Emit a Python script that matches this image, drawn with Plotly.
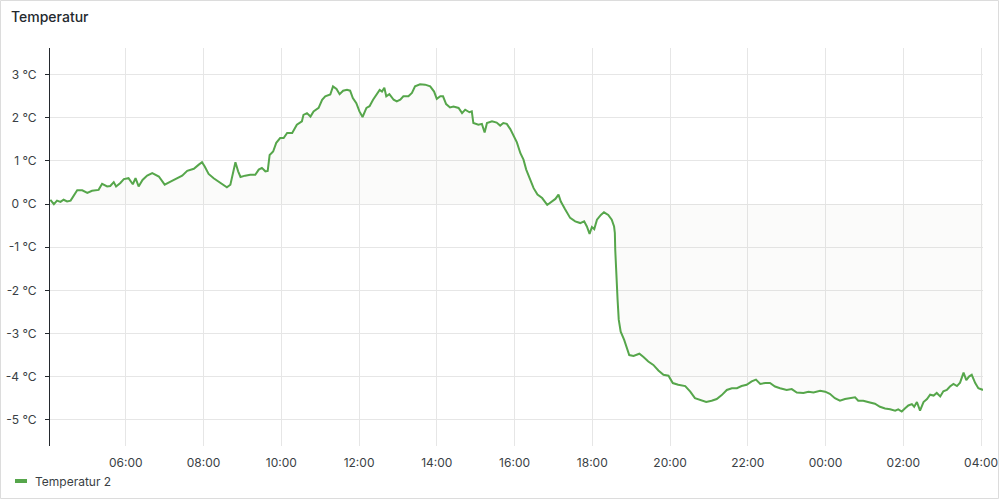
import datetime as dt
import plotly.graph_objects as go

# ---- data (hours after midnight of the start day, temperature in °C) ----
hours = [4.06, 4.15, 4.23, 4.32, 4.40, 4.49, 4.58, 4.66, 4.75, 4.88, 5.01, 5.13, 5.30, 5.39, 5.52,
         5.60, 5.69, 5.75, 5.86, 5.95, 6.07, 6.18, 6.25, 6.33, 6.43, 6.55, 6.68, 6.85, 7.00, 7.15,
         7.32, 7.45, 7.58, 7.75, 7.87, 7.96, 8.03, 8.13, 8.26, 8.39, 8.52, 8.60, 8.69, 8.75, 8.82,
         8.89, 8.95, 9.07, 9.20, 9.33, 9.42, 9.50, 9.59, 9.65, 9.70, 9.79, 9.87, 9.97, 10.06, 10.15,
         10.28, 10.40, 10.53, 10.57, 10.66, 10.75, 10.83, 10.96, 11.05, 11.13, 11.26, 11.33, 11.42,
         11.50, 11.59, 11.69, 11.77, 11.84, 11.93, 12.01, 12.09, 12.19, 12.27, 12.36, 12.44, 12.53,
         12.59, 12.65, 12.70, 12.78, 12.89, 12.97, 13.06, 13.14, 13.27, 13.36, 13.44, 13.57, 13.70,
         13.83, 13.93, 14.00, 14.09, 14.16, 14.24, 14.34, 14.43, 14.56, 14.65, 14.73, 14.84, 14.90,
         14.94, 15.07, 15.16, 15.23, 15.29, 15.42, 15.54, 15.63, 15.71, 15.80, 15.89, 15.97, 16.06,
         16.15, 16.23, 16.30, 16.39, 16.49, 16.59, 16.71, 16.84, 16.92, 17.05, 17.13, 17.19, 17.30,
         17.43, 17.56, 17.69, 17.79, 17.86, 17.93, 17.99, 18.05, 18.12, 18.22, 18.30, 18.41, 18.50,
         18.56, 18.58, 18.59, 18.61, 18.65, 18.68, 18.73, 18.82, 18.89, 18.95, 19.06, 19.21, 19.31,
         19.44, 19.57, 19.70, 19.83, 19.96, 20.07, 20.21, 20.39, 20.52, 20.64, 20.77, 20.93, 21.07,
         21.20, 21.33, 21.46, 21.59, 21.72, 21.84, 21.97, 22.10, 22.21, 22.32, 22.45, 22.57, 22.70,
         22.83, 23.00, 23.13, 23.26, 23.43, 23.56, 23.69, 23.86, 23.99, 24.11, 24.24, 24.37, 24.50,
         24.63, 24.76, 24.84, 24.97, 25.14, 25.27, 25.40, 25.53, 25.66, 25.79, 25.87, 25.96, 26.04,
         26.13, 26.22, 26.28, 26.35, 26.43, 26.52, 26.61, 26.69, 26.78, 26.86, 26.95, 27.03, 27.12,
         27.20, 27.29, 27.38, 27.46, 27.55, 27.62, 27.69, 27.76, 27.85, 27.93, 28.05]

temps = [0.10, 0.00, 0.08, 0.05, 0.10, 0.06, 0.08, 0.18, 0.32, 0.32, 0.26, 0.31, 0.33, 0.47, 0.41,
         0.42, 0.51, 0.41, 0.49, 0.58, 0.60, 0.46, 0.60, 0.41, 0.56, 0.66, 0.72, 0.64, 0.45, 0.52,
         0.60, 0.66, 0.77, 0.82, 0.91, 0.97, 0.87, 0.70, 0.60, 0.52, 0.42, 0.39, 0.45, 0.72, 0.97,
         0.76, 0.63, 0.66, 0.68, 0.68, 0.80, 0.84, 0.76, 0.77, 1.14, 1.22, 1.42, 1.53, 1.53, 1.65,
         1.65, 1.84, 1.92, 2.07, 2.11, 2.03, 2.15, 2.23, 2.42, 2.50, 2.54, 2.73, 2.67, 2.55, 2.63,
         2.65, 2.63, 2.46, 2.34, 2.15, 2.02, 2.23, 2.27, 2.42, 2.54, 2.65, 2.61, 2.70, 2.50, 2.55,
         2.42, 2.38, 2.42, 2.50, 2.50, 2.58, 2.73, 2.78, 2.77, 2.73, 2.61, 2.44, 2.50, 2.50, 2.32,
         2.24, 2.26, 2.23, 2.11, 2.19, 2.13, 2.15, 1.88, 1.84, 1.86, 1.66, 1.88, 1.92, 1.89, 1.82,
         1.88, 1.86, 1.74, 1.61, 1.43, 1.18, 1.03, 0.80, 0.60, 0.37, 0.22, 0.14, -0.02, 0.04, 0.12,
         0.22, 0.06, -0.12, -0.32, -0.40, -0.44, -0.40, -0.52, -0.69, -0.53, -0.58, -0.36, -0.25,
         -0.19, -0.25, -0.36, -0.52, -0.67, -1.06, -1.60, -2.22, -2.68, -2.96, -3.15, -3.34, -3.50,
         -3.52, -3.47, -3.54, -3.65, -3.73, -3.86, -3.96, -3.98, -4.15, -4.19, -4.22, -4.35, -4.50,
         -4.54, -4.59, -4.56, -4.52, -4.43, -4.31, -4.27, -4.27, -4.22, -4.19, -4.11, -4.07, -4.17,
         -4.15, -4.15, -4.23, -4.27, -4.31, -4.29, -4.37, -4.38, -4.35, -4.37, -4.33, -4.35, -4.40,
         -4.50, -4.56, -4.52, -4.50, -4.48, -4.56, -4.56, -4.60, -4.63, -4.70, -4.74, -4.76, -4.79,
         -4.76, -4.81, -4.74, -4.67, -4.64, -4.70, -4.59, -4.79, -4.59, -4.52, -4.42, -4.44, -4.38,
         -4.46, -4.34, -4.31, -4.23, -4.17, -4.22, -4.14, -3.91, -4.08, -4.00, -3.96, -4.15, -4.27,
         -4.31]

y_tick_values = [3, 2, 1, 0, -1, -2, -3, -4, -5]
y_tick_labels = ["3 °C", "2 °C", "1 °C", "0 °C", "-1 °C", "-2 °C", "-3 °C", "-4 °C", "-5 °C"]

series_name = "Temperatur 2"
panel_title = "Temperatur"

# ---- build figure ----
base = dt.datetime(2024, 1, 15)
times = [base + dt.timedelta(hours=h) for h in hours]
x_start = base + dt.timedelta(hours=4.05)
x_end = base + dt.timedelta(hours=28.05)

W, H = 1000, 500
ML, MR, MT, MB = 50, 17, 48, 54
pw, ph = W - ML - MR, H - MT - MB

def px_x(p):
    return (p - ML) / pw

def px_y(p):
    return (H - MB - p) / ph

GREEN = "#56a64b"
TEXT = "#3a3f45"
GRID = "#e6e6e6"

fig = go.Figure()
fig.add_trace(go.Scatter(
    x=times, y=temps, mode="lines", name=series_name,
    line=dict(color=GREEN, width=2),
    fill="tozeroy", fillcolor="rgba(200,200,180,0.07)",
    showlegend=False, hoverinfo="x+y",
))

fig.update_layout(
    width=W, height=H,
    margin=dict(l=ML, r=MR, t=MT, b=MB, autoexpand=False),
    paper_bgcolor="white", plot_bgcolor="white",
    font=dict(family="Inter, Roboto, sans-serif", size=12, color=TEXT),
    xaxis=dict(
        type="date", range=[x_start, x_end], automargin=False,
        tickformat="%H:%M", dtick=2 * 3600 * 1000,
        tick0=base.strftime("%Y-%m-%d 00:00"),
        showgrid=True, gridcolor=GRID, gridwidth=1,
        showline=False, zeroline=False, ticks="", ticklen=0,
        ticklabelstandoff=8,
        tickfont=dict(size=12, color=TEXT),
    ),
    yaxis=dict(
        range=[-5.61, 3.62], automargin=False,
        tickvals=y_tick_values, ticktext=y_tick_labels,
        showgrid=True, gridcolor=GRID, gridwidth=1,
        showline=True, linecolor="#24292e", linewidth=1,
        ticks="outside", ticklen=4, tickcolor="#24292e",
        ticklabelstandoff=6,
        zeroline=False,
        tickfont=dict(size=12, color=TEXT),
    ),
    showlegend=False,
)

# panel border
fig.add_shape(type="rect", xref="paper", yref="paper",
              x0=px_x(0.5), x1=px_x(W - 1.5), y0=px_y(H - 1.5), y1=px_y(0.5),
              line=dict(color="#dcdcdc", width=1), fillcolor="rgba(0,0,0,0)", layer="below")

# title
fig.add_annotation(text=panel_title, xref="paper", yref="paper",
                   x=px_x(9), y=px_y(16), xanchor="left", yanchor="middle",
                   showarrow=False,
                   font=dict(size=14, color="#24292e", family="Inter, Roboto, sans-serif", weight=500))

# legend (manual)
fig.add_shape(type="line", xref="paper", yref="paper",
              x0=px_x(15), x1=px_x(27), y0=px_y(481), y1=px_y(481),
              line=dict(color=GREEN, width=4))
fig.add_annotation(text=series_name, xref="paper", yref="paper",
                   x=px_x(33), y=px_y(481), xanchor="left", yanchor="middle",
                   showarrow=False, font=dict(size=12, color=TEXT))

fig.write_html("out.html", config={"displayModeBar": False},
               post_script="document.body.style.margin='0';document.body.style.overflow='hidden';")
